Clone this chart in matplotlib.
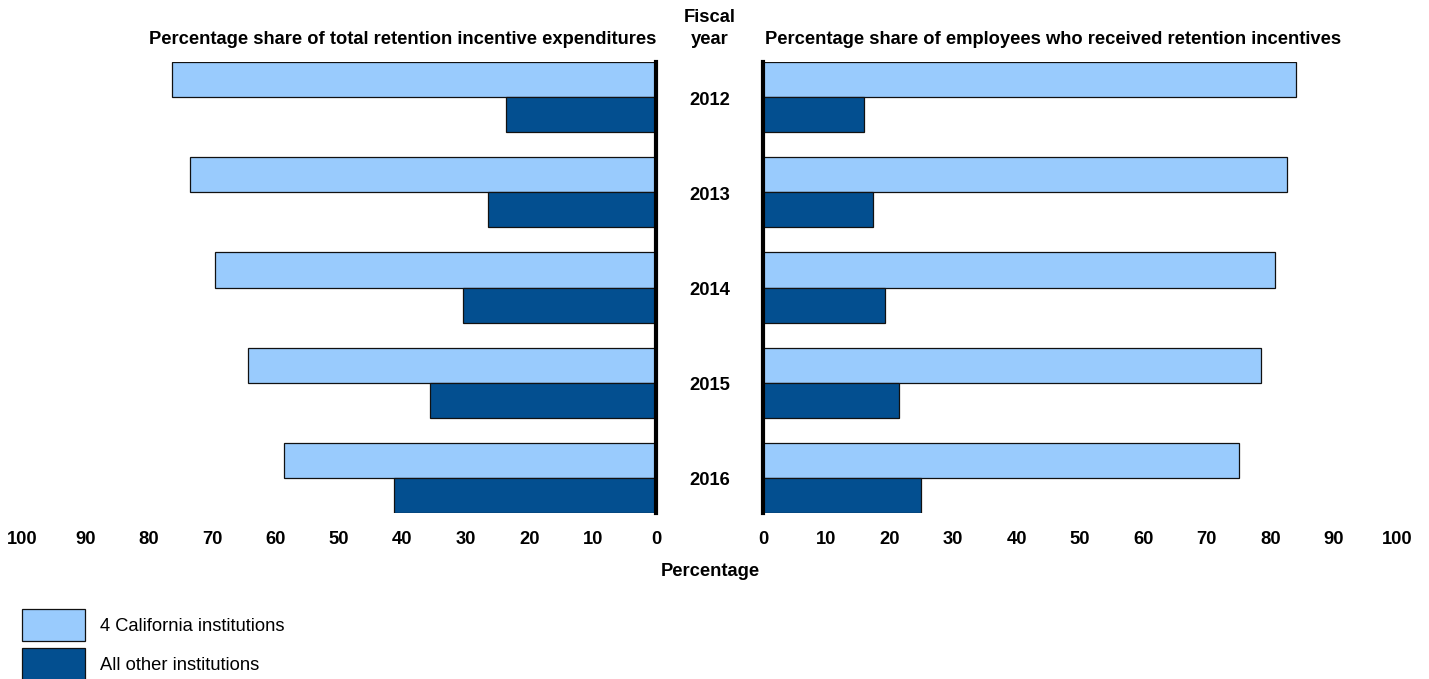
#!/usr/bin/env python3
"""Retention incentives: share of expenditures vs share of employees, FY2012-2016."""

import matplotlib
matplotlib.use("Agg")

import matplotlib.pyplot as plt
import numpy as np
from matplotlib.patches import Patch

plt.rcParams["font.family"] = ["Liberation Sans", "DejaVu Sans"]

# ── Data ───────────────────────────────────────────────────────────────

years = ["2012", "2013", "2014", "2015", "2016"]
series_names = ["4 California institutions", "All other institutions"]

# percentage share of total retention incentive expenditures
expend_ca = [76.4, 73.5, 69.5, 64.4, 58.6]
expend_other = [23.6, 26.5, 30.5, 35.6, 41.4]

# percentage share of employees who received retention incentives
employ_ca = [84.1, 82.6, 80.8, 78.5, 75.1]
employ_other = [15.9, 17.4, 19.2, 21.5, 24.9]

tick_values = list(range(0, 101, 10))

LIGHT = "#99cbfd"
DARK = "#034f90"
EDGE = "#111111"
FS = 13.2

# ── Figure ─────────────────────────────────────────────────────────────

W, H = 1429, 679
fig = plt.figure(figsize=(W / 100, H / 100), dpi=100)

bottom = 1 - 513 / H
height = (513 - 62) / H
ax_l = fig.add_axes([22 / W, bottom, (656 - 22) / W, height])
ax_r = fig.add_axes([763 / W, bottom, (1397 - 763) / W, height])

y = np.arange(len(years))
bh = 35 / 95


def draw(ax, ca, other):
    ax.barh(y - bh / 2, ca, height=bh, color=LIGHT, edgecolor=EDGE, linewidth=0.9)
    ax.barh(y + bh / 2, other, height=bh, color=DARK, edgecolor=EDGE, linewidth=0.9)
    ax.set_ylim(len(years) - 1 + bh, -bh)
    ax.set_yticks([])
    ax.set_xticks(tick_values)
    ax.set_xticklabels([str(v) for v in tick_values], fontsize=FS, fontweight="bold")
    ax.tick_params(axis="x", length=0, pad=13)
    for s in ax.spines.values():
        s.set_visible(False)


draw(ax_l, expend_ca, expend_other)
ax_l.set_xlim(100, 0)
ax_l.spines["right"].set_visible(True)
ax_l.spines["right"].set_linewidth(3)

draw(ax_r, employ_ca, employ_other)
ax_r.set_xlim(0, 100)
ax_r.spines["left"].set_visible(True)
ax_r.spines["left"].set_linewidth(3)

# year labels in the gap between the two panels
for i, yr in enumerate(years):
    ax_r.annotate(yr, xy=(0, i), xycoords=("axes fraction", "data"),
                  xytext=(-53, -3), textcoords="offset pixels",
                  ha="center", va="center", fontsize=FS, fontweight="bold")

cx = 710 / W
fig.text(cx, 1 - 17 / H, "Fiscal", ha="center", va="center",
         fontsize=FS, fontweight="bold")
fig.text(cx, 1 - 39 / H, "year", ha="center", va="center",
         fontsize=FS, fontweight="bold")
fig.text(656 / W, 1 - 39 / H, "Percentage share of total retention incentive expenditures",
         ha="right", va="center", fontsize=FS, fontweight="bold")
fig.text(765 / W, 1 - 39 / H, "Percentage share of employees who received retention incentives",
         ha="left", va="center", fontsize=FS, fontweight="bold")
fig.text(cx, 1 - 571 / H, "Percentage", ha="center", va="center",
         fontsize=FS, fontweight="bold")

handles = [Patch(facecolor=LIGHT, edgecolor=EDGE, linewidth=0.9),
           Patch(facecolor=DARK, edgecolor=EDGE, linewidth=0.9)]
fig.legend(handles, series_names, loc="upper left",
           bbox_to_anchor=(22 / W, 1 - 609 / H), frameon=False, fontsize=FS,
           handlelength=3.45, handleheight=2.31, labelspacing=0.38,
           handletextpad=0.8, borderpad=0, borderaxespad=0)

fig.savefig("out.png", dpi=100)
